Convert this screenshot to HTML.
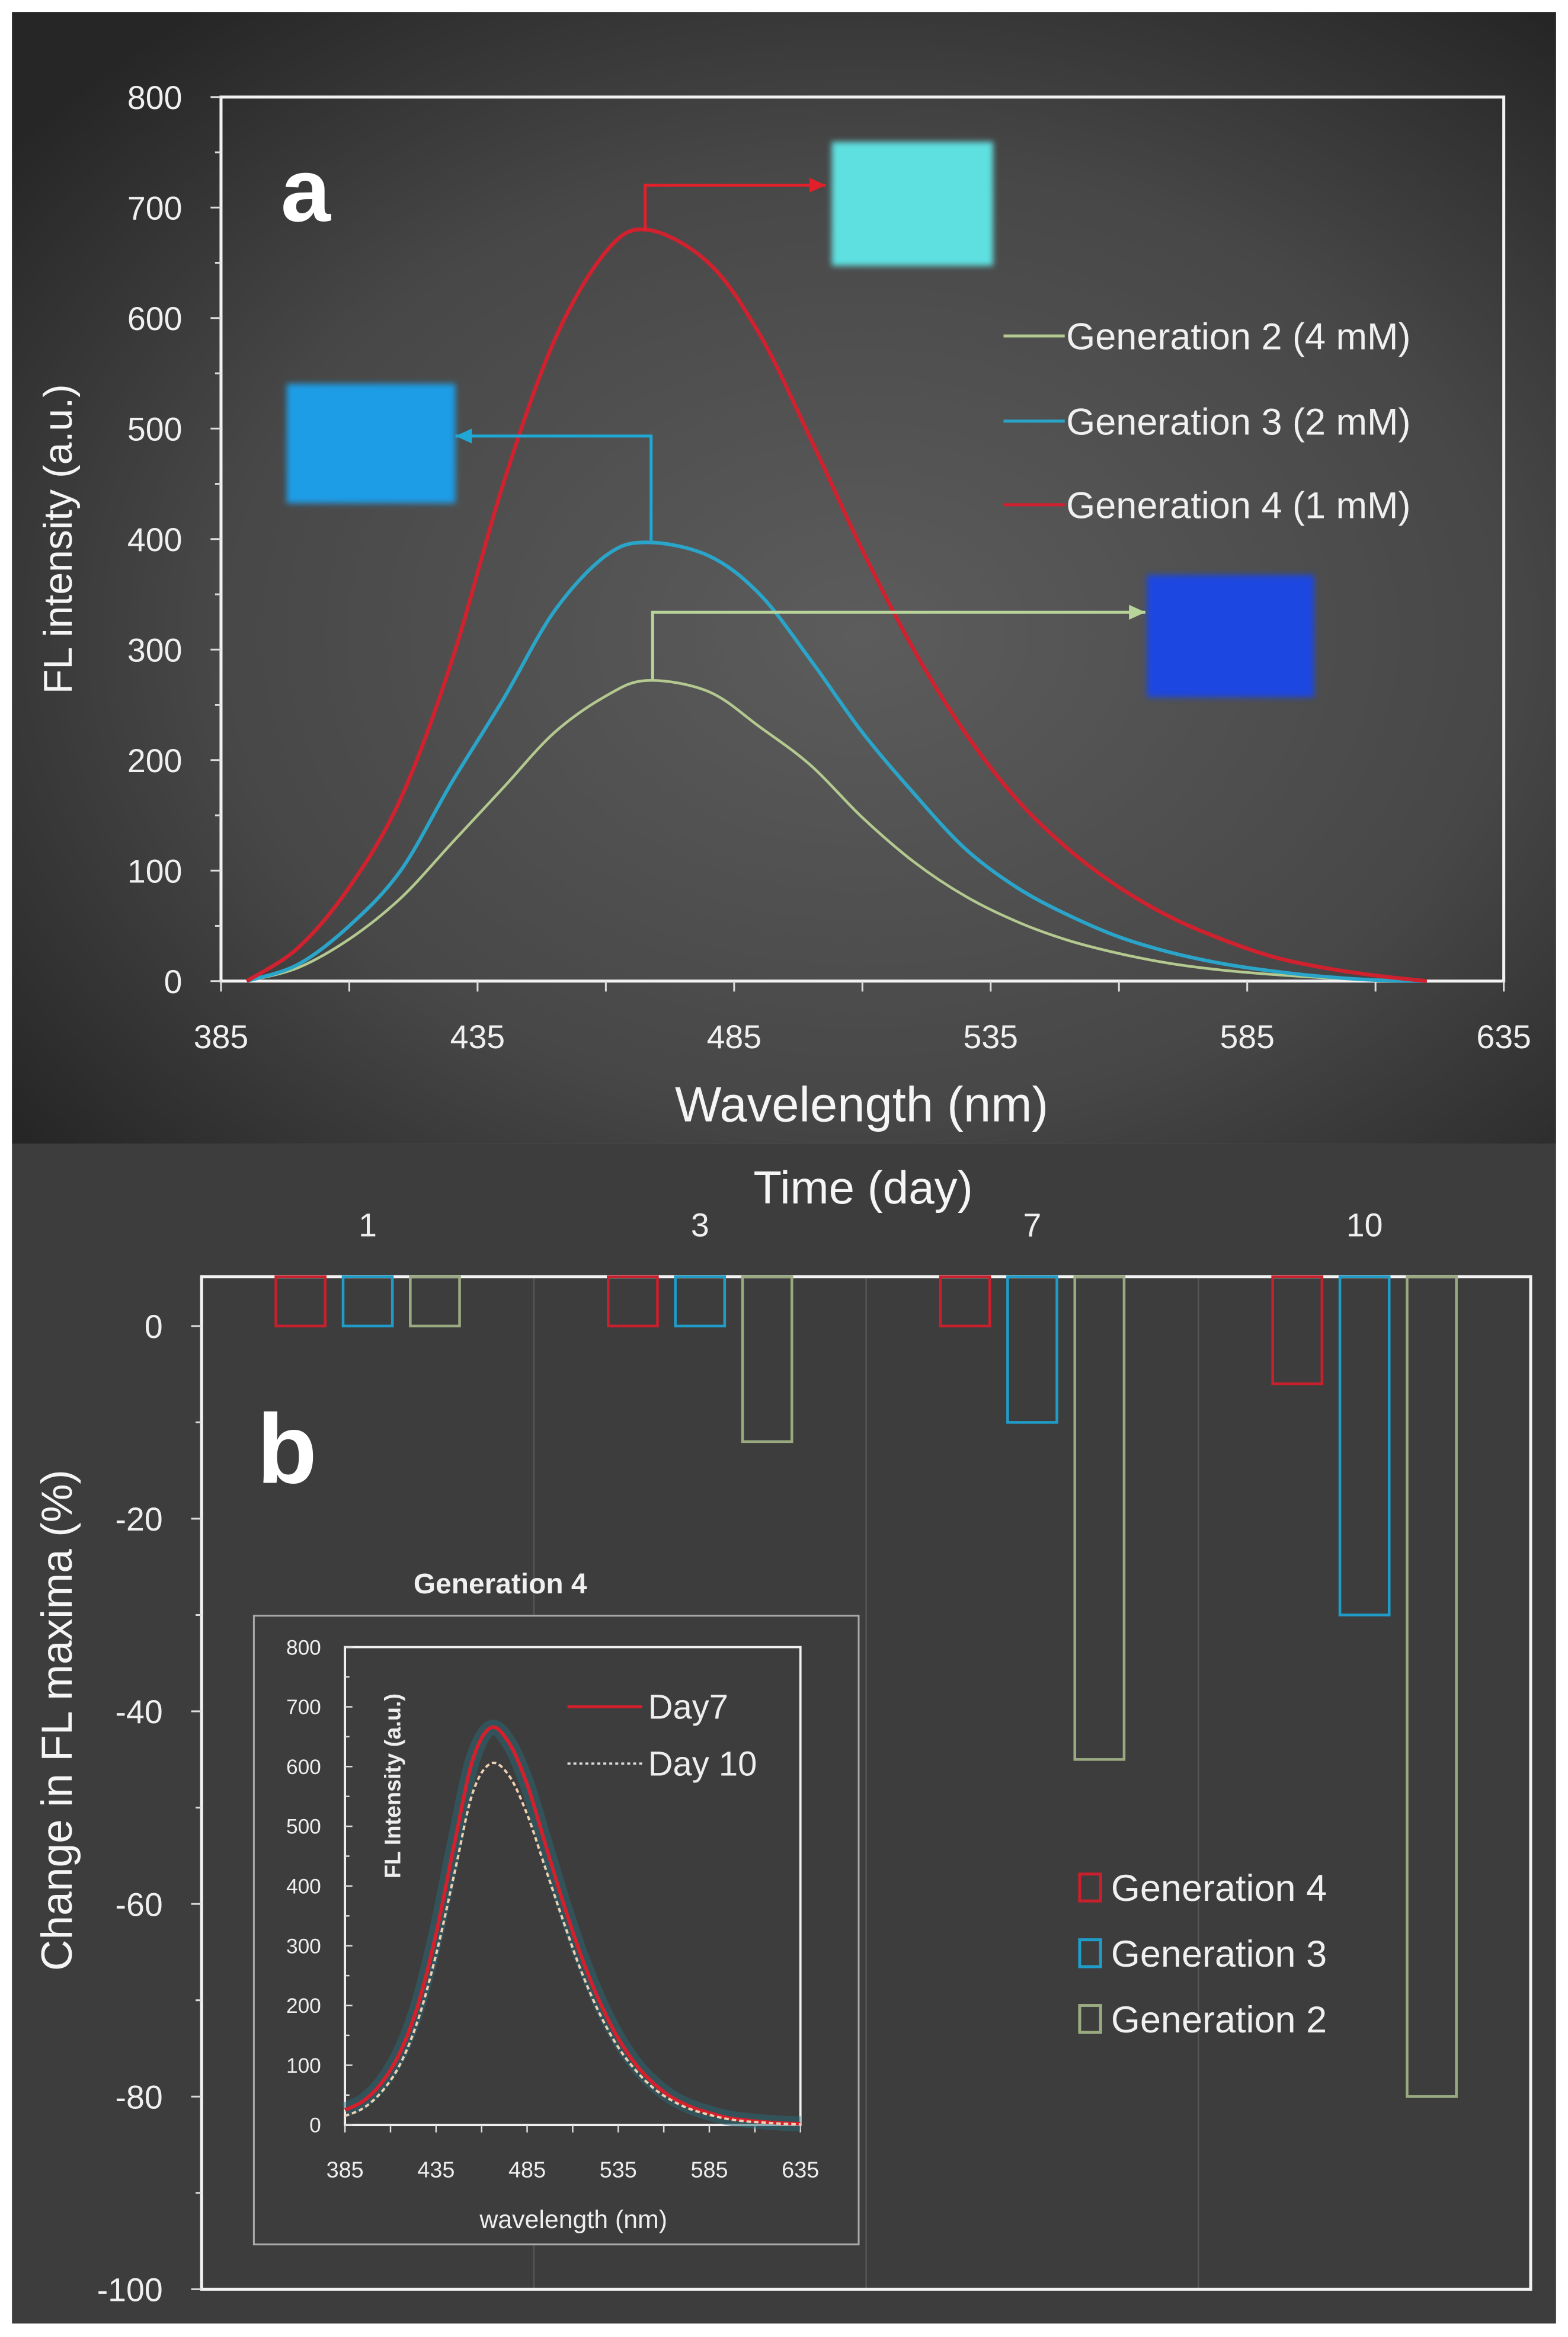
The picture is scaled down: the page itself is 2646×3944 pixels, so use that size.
<!DOCTYPE html>
<html><head><meta charset="utf-8"><style>
html,body{margin:0;padding:0;background:#fff}
svg{display:block}
text{font-family:"Liberation Sans",sans-serif}
</style></head><body>
<svg id="fig" width="2646" height="3944" viewBox="0 0 1050 1565" preserveAspectRatio="none" xmlns="http://www.w3.org/2000/svg">
<defs>
<radialGradient id="bgA" cx="0.55" cy="0.55" r="0.7">
<stop offset="0" stop-color="#5c5c5c"/><stop offset="0.6" stop-color="#474747"/><stop offset="1" stop-color="#262626"/>
</radialGradient>
<filter id="blur"><feGaussianBlur stdDeviation="2"/></filter>
</defs>
<rect x="0" y="0" width="1050" height="1565" fill="#fff"/>
<rect x="8" y="8" width="1034" height="758" fill="url(#bgA)"/>
<rect x="8" y="766" width="1034" height="790" fill="#3d3d3d"/>
<g id="gA"></g>
<g id="gB"></g>
<g id="gI"></g>
</svg>
<script>
// Panel a data
const wl   = [390,400,410,420,430,440,450,460,468,480,490,500,510,520,530,540,550,560,570,580,590,600,610,620];
const gen4 = [0,30,85,165,290,450,580,660,680,650,585,490,390,300,225,165,120,85,58,38,22,12,5,0];
const gen3 = [0,15,50,100,180,255,335,385,397,385,350,290,225,170,120,85,60,40,26,16,9,4,1,0];
const gen2 = [0,12,38,75,125,175,225,258,272,262,230,195,148,108,77,54,37,25,16,10,6,3,1,0];
const xTicksA = [385,435,485,535,585,635];
const yTicksA = [0,100,200,300,400,500,600,700,800];
// Panel b data
const days = ["1","3","7","10"];
const bGen4 = [0,0,0,-6];
const bGen3 = [0,0,-10,-30];
const bGen2 = [0,-12,-45,-80];
const yTicksB = [0,-20,-40,-60,-80,-100];
// Inset data
const wlI = [385,395,405,415,425,435,445,455,465,475,485,495,505,515,525,535,545,555,565,575,585,595,605,615,625,635];
const day7 = [25,40,70,120,200,320,470,610,665,640,570,470,370,280,205,145,100,68,45,30,20,12,8,5,3,2];
const day10 = [15,28,55,100,175,285,420,555,605,585,520,430,340,255,185,130,90,60,40,26,17,10,6,4,2,1];
const xTicksI = [385,435,485,535,585,635];
const yTicksI = [0,100,200,300,400,500,600,700,800];

const NS="http://www.w3.org/2000/svg";
function mk(parent,tag,attrs,txt){const e=document.createElementNS(NS,tag);for(const k in attrs)e.setAttribute(k,attrs[k]);if(txt!==undefined)e.textContent=txt;parent.appendChild(e);return e;}
function smooth(pts){let d='M'+pts[0][0].toFixed(1)+','+pts[0][1].toFixed(1);for(let i=0;i<pts.length-1;i++){const p0=pts[Math.max(0,i-1)],p1=pts[i],p2=pts[i+1],p3=pts[Math.min(pts.length-1,i+2)];const c1=[p1[0]+(p2[0]-p0[0])/6,p1[1]+(p2[1]-p0[1])/6],c2=[p2[0]-(p3[0]-p1[0])/6,p2[1]-(p3[1]-p1[1])/6];d+=` C${c1[0].toFixed(1)},${c1[1].toFixed(1)} ${c2[0].toFixed(1)},${c2[1].toFixed(1)} ${p2[0].toFixed(1)},${p2[1].toFixed(1)}`;}return d;}

// ---- Panel A
const gA=document.getElementById('gA');
const AL=148,AR=1007,AT=65,AB=657;
const ax=v=>AL+(v-385)/250*(AR-AL);
const ay=v=>AB-v/800*(AB-AT);
let r=mk(gA,'rect',{x:AL,y:AT,width:AR-AL,height:AB-AT,fill:'none',stroke:'#f2f2f2','stroke-width':2});


for(let v=0;v<=800;v+=50){const t=mk(gA,'line',{x1:AL-(v%100?4:7),x2:AL,y1:ay(v),y2:ay(v),stroke:'#ddd','stroke-width':1.2});}
yTicksA.forEach(v=>{const t=mk(gA,'text',{x:AL-26,y:ay(v)+8,'text-anchor':'end','font-size':22,fill:'#f0f0f0'},v);});
for(let v=385;v<=635;v+=25){const t=mk(gA,'line',{x1:ax(v),x2:ax(v),y1:AB,y2:AB+7,stroke:'#ddd','stroke-width':1.2});}
xTicksA.forEach(v=>{const t=mk(gA,'text',{x:ax(v),y:AB+45,'text-anchor':'middle','font-size':22,fill:'#f0f0f0'},v);});
let tt=mk(gA,'text',{x:577,y:751,'text-anchor':'middle','font-size':33,fill:'#f5f5f5'},'Wavelength (nm)');

tt=mk(gA,'text',{x:0,y:0,transform:'translate(48,361) rotate(-90)','text-anchor':'middle','font-size':27,fill:'#f5f5f5'},'FL intensity (a.u.)');

tt=mk(gA,'text',{x:188,y:148,'font-size':60,'font-weight':'bold',fill:'#fff'},'a');

function curve(g,xs,ys,fx,fy,col,w,dash,name){const d=smooth(xs.map((x,i)=>[fx(x),fy(ys[i])]));const p=mk(g,'path',{d:d,fill:'none',stroke:col,'stroke-width':w,'stroke-linejoin':'round'});if(dash)p.setAttribute('stroke-dasharray',dash);return p;}
curve(gA,wl,gen2,ax,ay,'#b3c98f',1.8,null,'line-generation-2');
curve(gA,wl,gen3,ax,ay,'#2aa5c9',2.4,null,'line-generation-3');
curve(gA,wl,gen4,ax,ay,'#d0212f',2.6,null,'line-generation-4');
// photos
[[557,95,108,83,'#5fe0e0','photo-generation-4'],[192,257,113,80,'#1d9de6','photo-generation-3'],[768,385,112,82,'#1f47e0','photo-generation-2']].forEach(p=>{const e=mk(gA,'rect',{x:p[0],y:p[1],width:p[2],height:p[3],fill:p[4],filter:'url(#blur)'});});
// arrows
function arrow(pts,col,name){const p=mk(gA,'polyline',{points:pts.map(a=>a.join(',')).join(' '),fill:'none',stroke:col,'stroke-width':2});const [x2,y2]=pts[pts.length-1];const dir=x2>pts[pts.length-2][0]?1:-1;const h=mk(gA,'polygon',{points:`${x2},${y2} ${x2-dir*11},${y2-5} ${x2-dir*11},${y2+5}`,fill:col});}
arrow([[432,155],[432,124],[553,124]],'#e0202a','arrow-generation-4');
arrow([[436,362],[436,292],[305,292]],'#1fa8d6','arrow-generation-3');
arrow([[437,455],[437,410],[767,410]],'#b8d49a','arrow-generation-2');
// legend a
[['Generation 2 (4 mM)','#b3c98f',225],['Generation 3 (2 mM)','#2aa5c9',282],['Generation 4 (1 mM)','#d0212f',338]].forEach((l,i)=>{const ln=mk(gA,'line',{x1:672,x2:713,y1:l[2],y2:l[2],stroke:l[1],'stroke-width':2});const t=mk(gA,'text',{x:714,y:l[2]+9,'font-size':25,fill:'#f0f0f0'},l[0]);});

// ---- Panel B
const gB=document.getElementById('gB');
const BL=135,BR=1025,BT=855,BB=1533;
const by=v=>888+(-v)/100*(BB-888);
const catW=(BR-BL)/days.length;
const cx=i=>BL+catW*(i+0.5);
for(let i=1;i<days.length;i++){const l=mk(gB,'line',{x1:BL+catW*i,x2:BL+catW*i,y1:BT,y2:BB,stroke:'#555','stroke-width':1});}
r=mk(gB,'rect',{x:BL,y:BT,width:BR-BL,height:BB-BT,fill:'none',stroke:'#f2f2f2','stroke-width':2});

for(let v=0;v>=-100;v-=10){const t=mk(gB,'line',{x1:BL-(v%20?4:7),x2:BL,y1:by(v),y2:by(v),stroke:'#ddd','stroke-width':1.2});}
yTicksB.forEach(v=>{const t=mk(gB,'text',{x:BL-26,y:by(v)+8,'text-anchor':'end','font-size':22,fill:'#f0f0f0'},v);});
days.forEach((d,i)=>{const t=mk(gB,'text',{x:cx(i),y:828,'text-anchor':'middle','font-size':22,fill:'#f0f0f0'},d);});
tt=mk(gB,'text',{x:578,y:806,'text-anchor':'middle','font-size':31,fill:'#f5f5f5'},'Time (day)');

tt=mk(gB,'text',{x:0,y:0,transform:'translate(48,1152) rotate(-90)','text-anchor':'middle','font-size':29,fill:'#f5f5f5'},'Change in FL maxima (%)');

tt=mk(gB,'text',{x:172,y:993,'font-size':66,'font-weight':'bold',fill:'#fff'},'b');

const series=[[bGen4,'#c8202c',-45,'bar-generation-4'],[bGen3,'#1f9cc8',0,'bar-generation-3'],[bGen2,'#9aaa80',45,'bar-generation-2']];
series.forEach(s=>{s[0].forEach((v,i)=>{const x=cx(i)+s[2]-16.5;const b=mk(gB,'rect',{x:x,y:BT,width:33,height:by(v)-BT,fill:'none',stroke:s[1],'stroke-width':1.8});});});
[['Generation 4','#c8202c',1264],['Generation 3','#1f9cc8',1308],['Generation 2','#9aaa80',1352]].forEach(l=>{const q=mk(gB,'rect',{x:723,y:l[2]-9,width:14,height:18,fill:'none',stroke:l[1],'stroke-width':2});const t=mk(gB,'text',{x:744,y:l[2]+9,'font-size':25,fill:'#f0f0f0'},l[0]);});

// ---- Inset
const gI=document.getElementById('gI');
r=mk(gI,'rect',{x:170,y:1082,width:405,height:421,fill:'#3d3d3d',stroke:'#aaa','stroke-width':1.2});

tt=mk(gI,'text',{x:335,y:1067,'text-anchor':'middle','font-size':19,'font-weight':'bold',fill:'#f0f0f0'},'Generation 4');

const IL=231,IR=536,IT=1103,IB=1423;
const ix=v=>IL+(v-385)/250*(IR-IL);
const iy=v=>IB-v/800*(IB-IT);
r=mk(gI,'rect',{x:IL,y:IT,width:IR-IL,height:IB-IT,fill:'none',stroke:'#f2f2f2','stroke-width':1.5});

for(let v=0;v<=800;v+=50){const t=mk(gI,'line',{x1:IL,x2:IL+(v%100?3:5),y1:iy(v),y2:iy(v),stroke:'#ddd','stroke-width':1});}
yTicksI.forEach(v=>{const t=mk(gI,'text',{x:IL-16,y:iy(v)+5,'text-anchor':'end','font-size':14,fill:'#eee'},v);});
for(let v=385;v<=635;v+=25){const t=mk(gI,'line',{x1:ix(v),x2:ix(v),y1:IB,y2:IB+5,stroke:'#ddd','stroke-width':1});}
xTicksI.forEach(v=>{const t=mk(gI,'text',{x:ix(v),y:IB+35,'text-anchor':'middle','font-size':15,fill:'#eee'},v);});
tt=mk(gI,'text',{x:384,y:1492,'text-anchor':'middle','font-size':17,fill:'#eee'},'wavelength (nm)');

tt=mk(gI,'text',{x:0,y:0,transform:'translate(268,1196) rotate(-90)','text-anchor':'middle','font-size':15,'font-weight':'bold',fill:'#eee'},'FL Intensity (a.u.)');

curve(gI,wlI,day7,ix,iy,'#2a6a7a',10,null,'glow-day7').setAttribute('opacity','0.5');
curve(gI,wlI,day7,ix,iy,'#d4202c',2.4,null,'line-day7');
curve(gI,wlI,day10,ix,iy,'#f0d0b0',1.6,'3 2','line-day10');
let ll=mk(gI,'line',{x1:380,x2:430,y1:1143,y2:1143,stroke:'#d4202c','stroke-width':2});
tt=mk(gI,'text',{x:434,y:1151,'font-size':23,fill:'#eee'},'Day7');
ll=mk(gI,'line',{x1:380,x2:430,y1:1181,y2:1181,stroke:'#ddd','stroke-width':1.5,'stroke-dasharray':'2 2'});
tt=mk(gI,'text',{x:434,y:1189,'font-size':23,fill:'#eee'},'Day 10');
</script>
</body></html>
